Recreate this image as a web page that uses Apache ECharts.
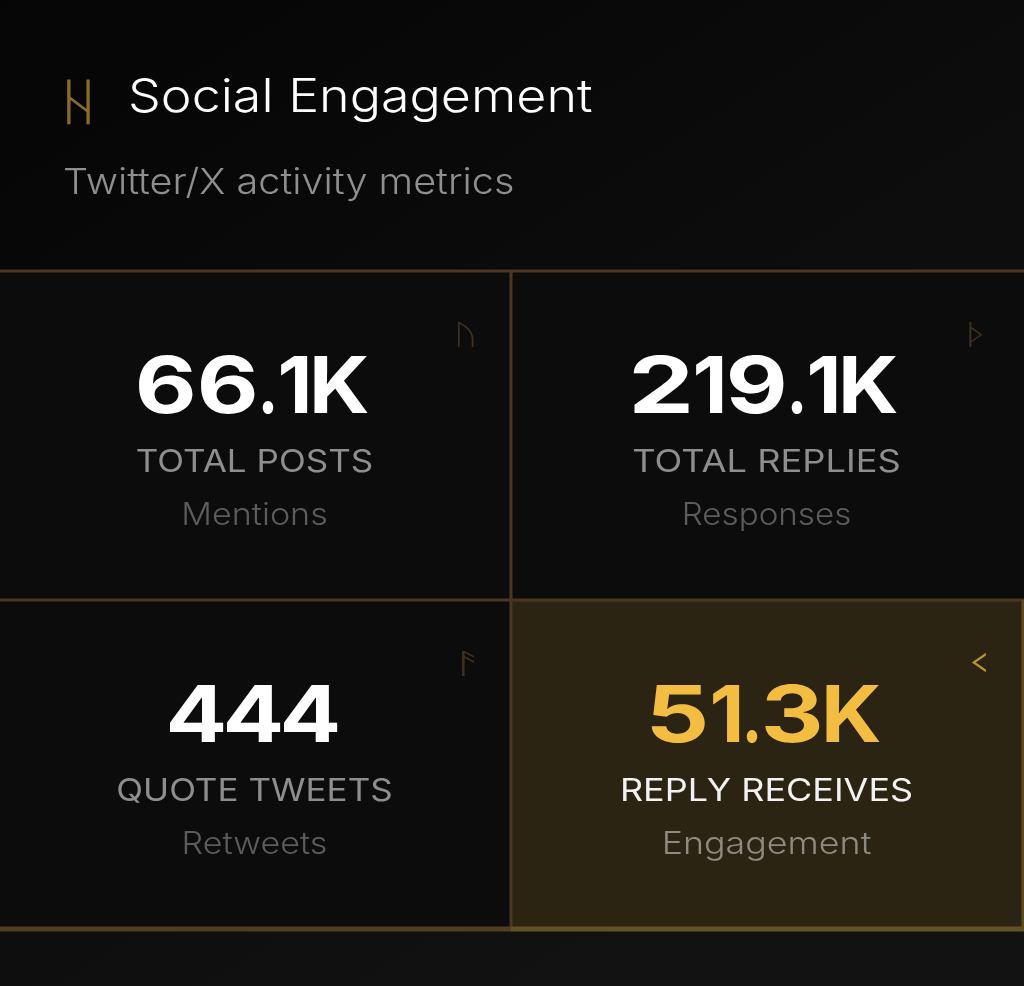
<!DOCTYPE html>
<html>
<head>
<meta charset="utf-8">
<title>Social Engagement</title>
<script src="https://cdn.jsdelivr.net/npm/echarts@6/dist/echarts.min.js"></script>
<style>
html,body{margin:0;padding:0;background:#0a0a0a;}
#main{width:1024px;height:986px;}
</style>
</head>
<body>
<div id="main"></div>
<script>
var chartTitle = 'Social Engagement';
var chartSubtitle = 'Twitter/X activity metrics';
var titleRune = 'ᚺ';
var metricValues = ['66.1K', '219.1K', '444', '51.3K'];
var metricLabels = ['TOTAL POSTS', 'TOTAL REPLIES', 'QUOTE TWEETS', 'REPLY RECEIVES'];
var metricNotes = ['Mentions', 'Responses', 'Retweets', 'Engagement'];
var metricRunes = ['ᚢ', 'ᚦ', 'ᚨ', 'ᚲ'];
var highlighted = [false, false, false, true];

var font = 'Inter, "Open Sans", sans-serif';
var bigFont = '700 78px Inter, sans-serif';
var chart = echarts.init(document.getElementById('main'), null, {renderer: 'canvas'});

// cell geometry
var colX = [0, 511];
var rowY = [271, 600];
var cellW = [511, 513];
var cellH = [329, 329];
var lineColor = '#4b3720';

// per cell tweaks, Inter is narrower than the original face
var runeDx = [1, 0, 4, 3];
var runeScaleX = [1.5, 1.7, 2.2, 2.6];
var runeScaleY = [1, 1, 1, 1.5];
var labelScale = [1.13, 1.17, 1.13, 1.16];
var noteScale = [1.1, 1.07, 1.1, 1.155];

// the original number font is a wide squared one, so every glyph gets its own width
function glyphWidth(ch) {
    if (ch === '.') return 11;
    if (ch === '1') return 27;
    if (ch === 'K') return 54;
    return 55;
}
function glyphGap(ch) {
    return ch === '4' ? 2 : 7;
}

var measure = document.createElement('canvas').getContext('2d');
measure.font = bigFont;

function pushNumber(list, text, cx, y, color) {
    var total = 0, k;
    for (k = 0; k < text.length; k++) {
        total += glyphWidth(text[k]) + (k < text.length - 1 ? glyphGap(text[k]) : 0);
    }
    var left = cx - total / 2;
    for (k = 0; k < text.length; k++) {
        var w = glyphWidth(text[k]);
        var m = measure.measureText(text[k]);
        var ink = m.actualBoundingBoxRight + m.actualBoundingBoxLeft;
        var sx = w / ink;
        list.push({type: 'text', x: left + m.actualBoundingBoxLeft * sx, y: y, scaleX: sx, style: {
            text: text[k], fill: color, font: bigFont,
            textAlign: 'left', textVerticalAlign: 'middle'
        }});
        left += w + glyphGap(text[k]);
    }
}

var elements = [];

// page background, slightly lighter towards the bottom right
elements.push({
    type: 'rect', silent: true,
    shape: {x: 0, y: 0, width: 1024, height: 986},
    style: {fill: new echarts.graphic.LinearGradient(0, 0, 0.6, 1, [
        {offset: 0, color: '#050505'},
        {offset: 1, color: '#121212'}
    ])}
});

elements.push({type: 'text', x: 55, y: 106, scaleX: 1.6, style: {
    text: titleRune, fill: '#8a6c28', font: '400 50px "DejaVu Sans"',
    textVerticalAlign: 'middle'
}});
elements.push({type: 'text', x: 128, y: 98, scaleX: 1.13, style: {
    text: chartTitle, fill: '#ffffff', font: '300 46px ' + font,
    textVerticalAlign: 'middle'
}});
elements.push({type: 'text', x: 63, y: 183, scaleX: 1.1, style: {
    text: chartSubtitle, fill: '#8f8f8f', font: '300 36px ' + font,
    textVerticalAlign: 'middle'
}});

for (var i = 0; i < metricValues.length; i++) {
    var c = i % 2, r = Math.floor(i / 2);
    var x = colX[c], y = rowY[r], cx = x + cellW[c] / 2 - 1;
    var hot = highlighted[i];
    elements.push({
        type: 'rect',
        shape: {x: x, y: y, width: cellW[c], height: cellH[r]},
        style: {fill: hot ? '#2c2413' : '#0d0c0c'}
    });
    elements.push({
        type: 'text',
        x: x + cellW[c] - 46 - c * 2 + runeDx[i], y: y + 66,
        scaleX: runeScaleX[i], scaleY: runeScaleY[i],
        style: {
            text: metricRunes[i], fill: hot ? '#b8952f' : '#3f3020',
            font: '400 28px "DejaVu Sans"', textAlign: 'center', textVerticalAlign: 'middle'
        }
    });
    pushNumber(elements, metricValues[i], cx - 1, y + 119, hot ? '#f3bd42' : '#ffffff');
    elements.push({type: 'text', x: cx, y: y + 192, scaleX: labelScale[i], style: {
        text: metricLabels[i], fill: hot ? '#f2f2f2' : '#8e8e8e',
        font: '400 31px ' + font, textAlign: 'center', textVerticalAlign: 'middle'
    }});
    elements.push({type: 'text', x: cx, y: y + 245, scaleX: noteScale[i], style: {
        text: metricNotes[i], fill: hot ? '#8e8b82' : '#5c5c5c',
        font: '300 31px ' + font, textAlign: 'center', textVerticalAlign: 'middle'
    }});
}

// grid lines: top, middle, divider, bottom, then the brighter edge of the highlighted cell
var gridLines = [
    {x1: 0, y1: 271, x2: 1024, y2: 271, w: 3, color: lineColor},
    {x1: 0, y1: 600, x2: 1024, y2: 600, w: 3, color: lineColor},
    {x1: 511, y1: 271, x2: 511, y2: 929, w: 3, color: lineColor},
    {x1: 0, y1: 929, x2: 511, y2: 929, w: 5, color: '#533c24'},
    {x1: 511, y1: 929, x2: 1024, y2: 929, w: 5, color: '#665023'},
    {x1: 1023, y1: 600, x2: 1023, y2: 929, w: 3, color: '#5c4a22'}
];
gridLines.forEach(function (l) {
    elements.push({
        type: 'line',
        shape: {x1: l.x1, y1: l.y1, x2: l.x2, y2: l.y2},
        style: {stroke: l.color, lineWidth: l.w}
    });
});

chart.setOption({
    backgroundColor: '#0a0a0a',
    animation: false,
    graphic: {elements: elements}
});
</script>
</body>
</html>
